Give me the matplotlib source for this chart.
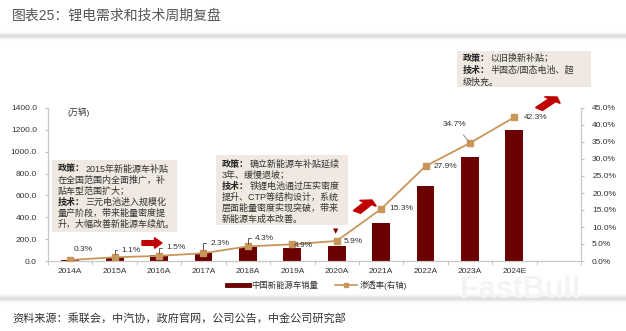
import matplotlib
matplotlib.use("Agg")
import matplotlib.pyplot as plt
import numpy as np
from matplotlib.patches import Rectangle, FancyArrow
from matplotlib.lines import Line2D
from matplotlib.ticker import FuncFormatter

plt.rcParams['font.family'] = ['Liberation Sans', 'Noto Sans CJK SC', 'DejaVu Sans']

years = ['2014A', '2015A', '2016A', '2017A', '2018A', '2019A',
         '2020A', '2021A', '2022A', '2023A', '2024E']
sales = [7.5, 33.1, 50.7, 77.7, 125.6, 120.6, 136.7, 352.1, 688.7, 949.5, 1200.0]
rate = [0.3, 1.1, 1.5, 2.3, 4.3, 4.9, 5.9, 15.3, 27.9, 34.7, 42.3]

box1 = ['2015年新能源车补贴', '在全国范围内全面推广，补', '贴车型范围扩大；',
        '三元电池进入规模化', '量产阶段，带来能量密度提', '升，大幅改善新能源车续航。']
box2 = ['确立新能源车补贴延续', '3年、缓慢退坡；', '铁锂电池通过压实密度',
        '提升、CTP等结构设计，系统', '层面能量密度实现突破，带来', '新能源车成本改善。']
box3 = ['以旧换新补贴；', '半固态/固态电池、超', '级快充。']

W, H = 626, 331
BAR = '#6b0000'
LINE = '#c8965a'
BOXC = '#efe9e1'
TXT = '#333333'

fig = plt.figure(figsize=(W / 100, H / 100), dpi=100)
fig.patch.set_facecolor('white')
renderer = fig.canvas.get_renderer()

def fx(x):
    return x / W

def fy(y):
    return 1 - y / H

# soft shadow bands below the title and above the source line
def band(y0, y1, peak):
    yy = np.linspace(y0, y1, 60)
    gv = 1 - 0.13 * np.exp(-((yy - peak) / 2.5) ** 2)
    img = np.repeat(gv[:, None, None], 3, axis=2)
    b = fig.add_axes([0, fy(y1), 1, (y1 - y0) / H])
    b.imshow(img[::-1], aspect='auto', interpolation='bilinear')
    b.axis('off')

band(28, 44, 36)
band(292, 306, 299)

ax = fig.add_axes([fx(48), fy(261), fx(581 - 48), (261 - 108) / H])
ax2 = ax.twinx()
x = np.arange(len(years))
ax.bar(x, sales, width=0.4, color=BAR, zorder=2)
ax.set_xlim(-0.5, 11.5)
ax.set_ylim(0, 1400)
ax.set_yticks(np.arange(0, 1401, 200))
ax.yaxis.set_major_formatter(FuncFormatter(lambda v, p: f'{v:.1f}'))
ax.set_xticks(x)
ax.set_xticklabels(years)
ax.set_xticks(np.arange(-0.5, 12, 1), minor=True)
ax.tick_params(axis='x', which='major', length=0, labelsize=6, colors=TXT, pad=5)
ax.tick_params(axis='x', which='minor', length=3, color='#bfbfbf')
ax.tick_params(axis='y', length=2, color='#bfbfbf', labelsize=6, labelcolor=TXT, pad=6)

ax2.set_ylim(0, 45)
ax2.set_yticks(np.arange(0, 46, 5))
ax2.yaxis.set_major_formatter(FuncFormatter(lambda v, p: f'{v:.1f}%'))
ax2.tick_params(axis='y', length=2, color='#bfbfbf', labelsize=6, labelcolor=TXT, pad=6)
ax2.plot(x, rate, color=LINE, lw=1.3, marker='s', ms=4, mfc=LINE, mec=LINE, zorder=3)

for a in (ax, ax2):
    a.spines['top'].set_visible(False)
    for s in ('left', 'right', 'bottom'):
        a.spines[s].set_color('#c8c8c8')
        a.spines[s].set_linewidth(0.8)
    a.set_facecolor('none')

# labels: (dx, dy, leader)
offs = [(3, 10, False), (7, 7, True), (7, 8, True), (7, 10, True), (7, 8, True),
        (2, -1, False), (7, -1, False), (8, 0, False), (8, 0, False), (-27, 19, 'diag'),
        (9, 0, False)]
for xi, (v, (dx, dy, lead)) in enumerate(zip(rate, offs)):
    if lead is True:
        ax2.annotate(f'{v}%', (xi, v), xytext=(dx, dy), textcoords='offset pixels',
                     fontsize=6, color=TXT, ha='left', va='center',
                     arrowprops=dict(arrowstyle='-', color='#444444', lw=0.6,
                                     connectionstyle='angle,angleA=0,angleB=90,rad=0',
                                     shrinkA=1, shrinkB=2))
    elif lead == 'diag':
        ax2.annotate(f'{v}%', (xi, v), xytext=(dx, dy), textcoords='offset pixels',
                     fontsize=6, color=TXT, ha='left', va='center',
                     arrowprops=dict(arrowstyle='-', color='#666666', lw=0.5,
                                     shrinkA=4, shrinkB=2))
    else:
        ax2.annotate(f'{v}%', (xi, v), xytext=(dx, dy), textcoords='offset pixels',
                     fontsize=6, color=TXT, ha='left', va='center')

fig.text(fx(68), fy(112), '(万辆)', fontsize=6, color=TXT, va='center')

# text boxes, bold head then the rest placed right after it
def tbox(x0, y0, x1, y1, tx, ty, lines, heads, step=11):
    fig.patches.append(Rectangle((fx(x0), fy(y1)), fx(x1 - x0), (y1 - y0) / H,
                                 transform=fig.transFigure, facecolor=BOXC,
                                 edgecolor='none', zorder=1))
    fs = 6.5
    for i, ln in enumerate(lines):
        yy = fy(ty + i * step)
        xs = fx(tx)
        if i in heads:
            t = fig.text(fx(tx), yy, heads[i], fontsize=fs, fontweight='bold',
                         color='#222222', va='center', zorder=5)
            xs = fig.transFigure.inverted().transform(
                (t.get_window_extent(renderer).x1 + 0.5, 0))[0]
        fig.text(xs, yy, ln, fontsize=fs, color=TXT, va='center', zorder=5)

tbox(52, 160, 177, 232, 58, 169, box1, {0: '政策：', 3: '技术：'})
tbox(216, 155, 348, 225, 222, 164, box2, {0: '政策：', 2: '技术：'})
tbox(457, 51, 591, 87, 463, 58, box3, {0: '政策：', 1: '技术：'}, step=12)

# red arrows
def rarrow(x0, y0, x1, y1):
    fig.patches.append(FancyArrow(fx(x0), fy(y0), fx(x1 - x0), fy(y1) - fy(y0),
                                  width=0.014, head_width=0.032, head_length=0.012,
                                  length_includes_head=True, transform=fig.transFigure,
                                  color='#c00000', zorder=6))

rarrow(142, 243, 162, 243)
rarrow(357, 212, 372, 200)
rarrow(539, 109, 557, 97)
fig.text(fx(336), fy(231), '▼', fontsize=5, color='#7a0000', ha='center', va='center',
         family=['DejaVu Sans'])

# legend
h1 = Line2D([], [], color=BAR, lw=3.5)
h2 = Line2D([], [], color=LINE, lw=1.2, marker='s', ms=2.5)
fig.legend([h1, h2], ['中国新能源车销量', '渗透率(右轴)'], loc='center',
           bbox_to_anchor=(fx(317), fy(285)), ncol=2, frameon=False, fontsize=6,
           handlelength=2.6, columnspacing=2.0, handletextpad=0.3, labelcolor=TXT)

fig.text(fx(12), fy(16), '图表25：锂电需求和技术周期复盘', fontsize=10, color='#555555',
         va='center')
fig.text(fx(12), fy(318), '资料来源：乘联会，中汽协，政府官网，公司公告，中金公司研究部',
         fontsize=8, color='#333333', va='center')
fig.text(fx(520), fy(290), 'FastBull', fontsize=22, fontweight='bold', color='#f4f4f4',
         ha='center', va='center', zorder=0)

fig.savefig('out.png', dpi=100)
